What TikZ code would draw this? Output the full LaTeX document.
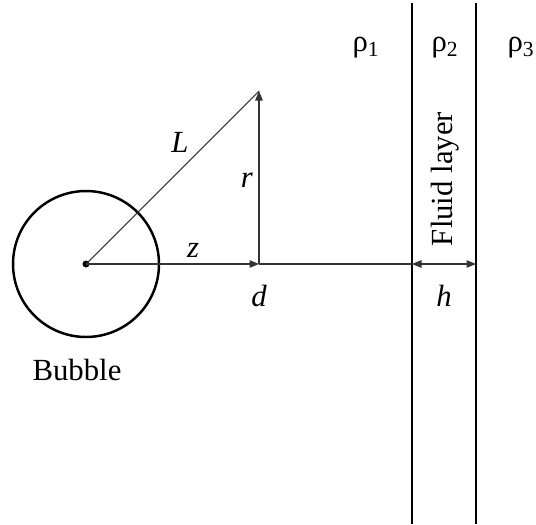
\documentclass[tikz,border=0pt]{standalone}
\usepackage{fontspec}
\setmainfont{Liberation Serif}
\usetikzlibrary{arrows.meta, positioning}

\begin{document}
\begin{tikzpicture}[
        x=0.02cm, y=-0.02cm,
        font=\fontsize{17.5}{21}\selectfont,
        wall/.style={line width=1.4pt, draw=black},
        bubble/.style={circle, draw=black, line width=1.4pt, minimum size=2.92cm, inner sep=0pt},
        dot/.style={circle, fill=black, minimum size=0.14cm, inner sep=0pt},
        thinline/.style={line width=0.6pt, draw=black!80},
        arrow/.style={thinline, -{Triangle[length=0.19cm, width=0.15cm]}},
        label/.style={inner sep=1pt}
    ]
        \useasboundingbox (0,0) rectangle (536,524);

        % Bubble
        \node[dot] (O) at (86,264) {};
        \node[bubble] (B) at (O) {};
        \node[label] (Btxt) at (77,370) {Bubble};

        % Points
        \coordinate (A) at (259,91);
        \coordinate (D) at (259,264);
        \coordinate (W1) at (412,264);
        \coordinate (W2) at (476,264);

        % Walls of the fluid layer
        \draw[wall] (412,3) -- (412,524);
        \draw[wall] (476,3) -- (476,524);

        % Connectors
        \draw[thinline] (O.center) -- (A);
        \draw[arrow] (O.center) -- (D);
        \draw[arrow] (D) -- (A);
        \draw[thinline] (D) -- (W1);
        \draw[thinline, {Triangle[length=0.19cm, width=0.15cm]}-{Triangle[length=0.19cm, width=0.15cm]}] (W1) -- (W2);

        % Labels
        \node[label] (Ltxt) at (180,142) {\textit{L}};
        \node[label] (rtxt) at (247,180) {\textit{r}};
        \node[label] (ztxt) at (193,250) {\textit{z}};
        \node[label] (dtxt) at (259,296) {\textit{d}};
        \node[label] (htxt) at (444,296) {\textit{h}};
        \node[label, rotate=90] (fluid) at (445,179) {Fluid layer};
        \node[label] (rho1) at (366,48) {ρ\textsubscript{1}};
        \node[label] (rho2) at (445,48) {ρ\textsubscript{2}};
        \node[label] (rho3) at (521,48) {ρ\textsubscript{3}};

    \end{tikzpicture}
\end{document}
